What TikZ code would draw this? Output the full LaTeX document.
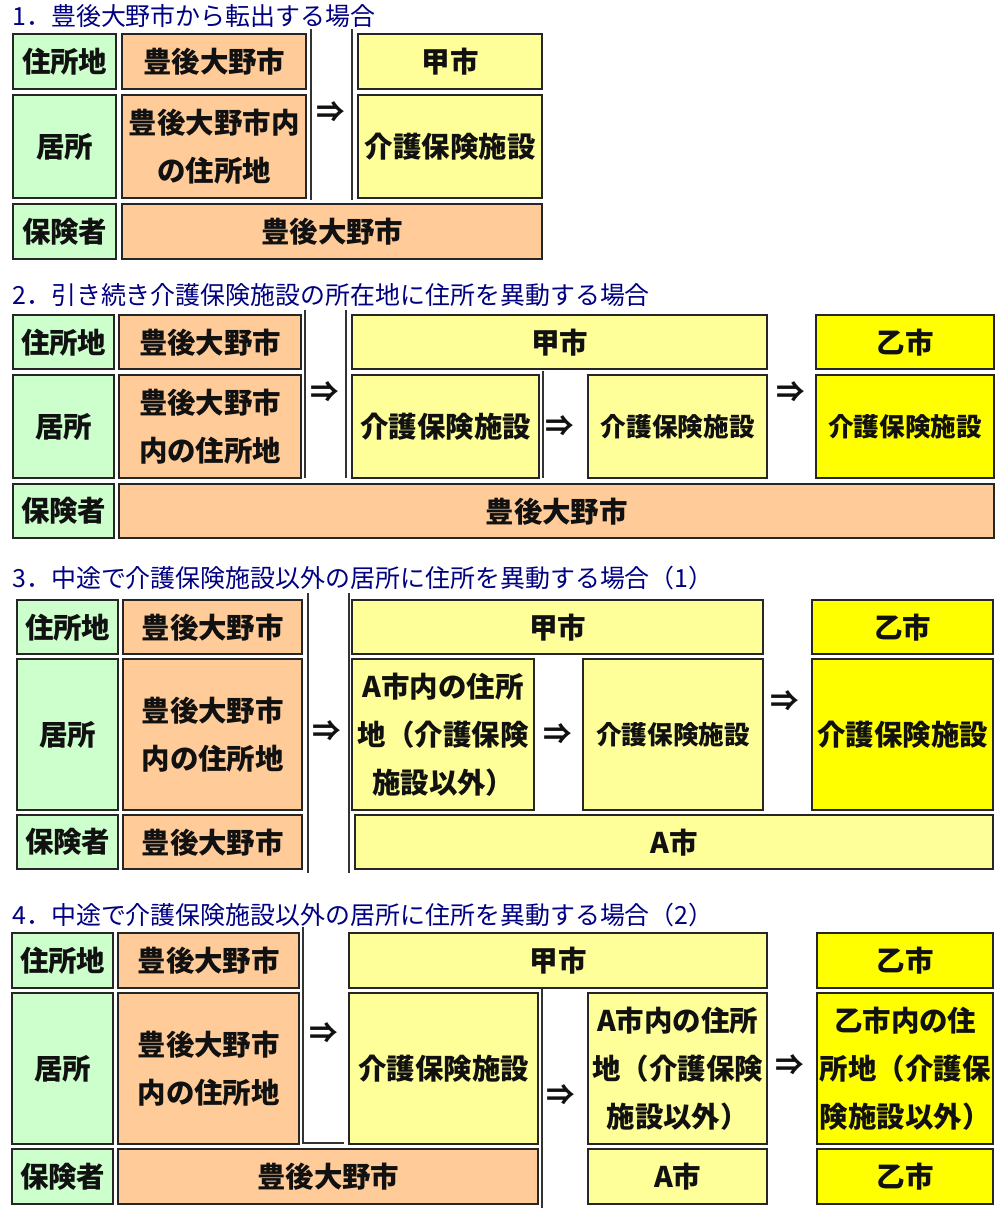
\documentclass[tikz,border=0pt]{standalone}
\usepackage{fontspec}
\setmainfont{Noto Sans CJK JP}
\usetikzlibrary{positioning}
\definecolor{headCol}{HTML}{CCFFCC}
\definecolor{oldCol}{HTML}{FFCC99}
\definecolor{kouCol}{HTML}{FFFF99}
\definecolor{otsuCol}{HTML}{FFFF00}
\definecolor{titleCol}{HTML}{000080}
\definecolor{textdark}{HTML}{111111}

\begin{document}
\begin{tikzpicture}[
    x=0.02cm, y=-0.02cm,
    cell/.style={draw=black!85, line width=1.4pt, anchor=north west, inner sep=0pt, align=center,
        text=textdark, font=\fontsize{16.2}{27.2}\selectfont\bfseries},
    small/.style={font=\fontsize{14.6}{24}\selectfont\bfseries},
    sz/.style 2 args={minimum width=#1*0.02cm, minimum height=#2*0.02cm},
    headcell/.style={cell, fill=headCol},
    oldcell/.style={cell, fill=oldCol},
    koucell/.style={cell, fill=kouCol},
    otsucell/.style={cell, fill=otsuCol},
    arr/.style={inner sep=0pt, text=textdark, font=\fontsize{16.2}{20}\selectfont\bfseries},
    ttl/.style={anchor=west, inner sep=0pt, text=titleCol, font=\fontsize{14.2}{17}\selectfont},
    sepline/.style={draw=black!80, line width=1.1pt}
]
\useasboundingbox (0,0) rectangle (1000,1214);

% --- 1. TRANSFER OUT ---
\node[ttl] (t1) at (12,16) {1．豊後大野市から転出する場合};
\node[headcell, sz={103}{55}] (s1k1) at (12,33) {住所地};
\node[oldcell, sz={184}{55}] (s1o1) at (121,33) {豊後大野市};
\node[koucell, sz={184}{55}] (s1n1) at (357,33) {甲市};
\node[headcell, sz={103}{103}] (s1k2) at (12,94) {居所};
\node[oldcell, sz={184}{103}] (s1o2) at (121,94) {豊後大野市内\\の住所地};
\node[koucell, sz={184}{103}] (s1n2) at (357,94) {介護保険施設};
\node[headcell, sz={103}{55}] (s1k3) at (12,203) {保険者};
\node[oldcell, sz={420}{55}] (s1o3) at (121,203) {豊後大野市};
\draw[sepline] (311,29) -- (311,200);
\draw[sepline] (352,29) -- (352,200);
\node[arr] (s1a) at (331,112) {⇒};

% --- 2. MOVE TO FACILITY ADDRESS ---
\node[ttl] (t2) at (12,295) {2．引き続き介護保険施設の所在地に住所を異動する場合};
\node[headcell, sz={101}{54}] (s2k1) at (12,314) {住所地};
\node[oldcell, sz={182}{54}] (s2o1) at (118,314) {豊後大野市};
\node[koucell, sz={415}{54}] (s2n1) at (351,314) {甲市};
\node[otsucell, sz={178}{54}] (s2z1) at (815,314) {乙市};
\node[headcell, sz={101}{103}] (s2k2) at (12,374) {居所};
\node[oldcell, sz={182}{103}] (s2o2) at (118,374) {豊後大野市\\内の住所地};
\node[koucell, sz={187}{103}] (s2n2) at (351,374) {介護保険施設};
\node[koucell, small, sz={179}{103}] (s2n3) at (587,374) {介護保険施設};
\node[otsucell, small, sz={178}{103}] (s2z2) at (815,374) {介護保険施設};
\node[headcell, sz={101}{54}] (s2k3) at (12,483) {保険者};
\node[oldcell, sz={875}{54}] (s2o3) at (118,483) {豊後大野市};
\draw[sepline] (305,310) -- (305,478);
\draw[sepline] (346,310) -- (346,478);
\draw[sepline] (543,371) -- (543,478);
\node[arr] (s2a) at (325,392) {⇒};
\node[arr] (s2b) at (560,426) {⇒};
\node[arr] (s2c) at (791,392) {⇒};

% --- 3. MOVE TO NON-FACILITY RESIDENCE (1) ---
\node[ttl] (t3) at (12,578) {3．中途で介護保険施設以外の居所に住所を異動する場合（1）};
\node[headcell, sz={101}{54}] (s3k1) at (16,599) {住所地};
\node[oldcell, sz={179}{54}] (s3o1) at (122,599) {豊後大野市};
\node[koucell, sz={411}{54}] (s3n1) at (351,599) {甲市};
\node[otsucell, sz={181}{54}] (s3z1) at (811,599) {乙市};
\node[headcell, sz={101}{151}] (s3k2) at (16,658) {居所};
\node[oldcell, sz={179}{151}] (s3o2) at (122,658) {豊後大野市\\内の住所地};
\node[koucell, sz={182}{151}] (s3n2) at (351,658) {A市内の住所\\地（介護保険\\施設以外）};
\node[koucell, small, sz={180}{151}] (s3n3) at (582,658) {介護保険施設};
\node[otsucell, sz={181}{151}] (s3z2) at (811,658) {介護保険施設};
\node[headcell, sz={101}{54}] (s3k3) at (16,814) {保険者};
\node[oldcell, sz={179}{54}] (s3o3) at (122,814) {豊後大野市};
\node[koucell, sz={638}{54}] (s3n4) at (354,814) {A市};
\draw[sepline] (308,593) -- (308,873);
\draw[sepline] (349,593) -- (349,873);
\node[arr] (s3a) at (327,731) {⇒};
\node[arr] (s3b) at (558,734) {⇒};
\node[arr] (s3c) at (785,701) {⇒};

% --- 4. MOVE TO NON-FACILITY RESIDENCE (2) ---
\node[ttl] (t4) at (12,915) {4．中途で介護保険施設以外の居所に住所を異動する場合（2）};
\node[headcell, sz={101}{55}] (s4k1) at (11,932) {住所地};
\node[oldcell, sz={181}{55}] (s4o1) at (117,932) {豊後大野市};
\node[koucell, sz={418}{55}] (s4n1) at (348,932) {甲市};
\node[otsucell, sz={176}{55}] (s4z1) at (816,932) {乙市};
\node[headcell, sz={101}{151}] (s4k2) at (11,992) {居所};
\node[oldcell, sz={181}{151}] (s4o2) at (117,992) {豊後大野市\\内の住所地};
\node[koucell, sz={189}{151}] (s4n2) at (348,992) {介護保険施設};
\node[koucell, sz={179}{151}] (s4n3) at (587,992) {A市内の住所\\地（介護保険\\施設以外）};
\node[otsucell, sz={176}{151}] (s4z2) at (816,992) {乙市内の住\\所地（介護保\\険施設以外）};
\node[headcell, sz={101}{55}] (s4k3) at (11,1148) {保険者};
\node[oldcell, sz={420}{55}] (s4o3) at (117,1148) {豊後大野市};
\node[koucell, sz={179}{55}] (s4n4) at (587,1148) {A市};
\node[otsucell, sz={176}{55}] (s4z3) at (816,1148) {乙市};
\draw[sepline] (303,927) -- (303,1143) -- (344,1143);
\draw[sepline] (542,989) -- (542,1208);
\node[arr] (s4a) at (324,1033) {⇒};
\node[arr] (s4b) at (561,1095) {⇒};
\node[arr] (s4c) at (790,1065) {⇒};

\end{tikzpicture}
\end{document}
